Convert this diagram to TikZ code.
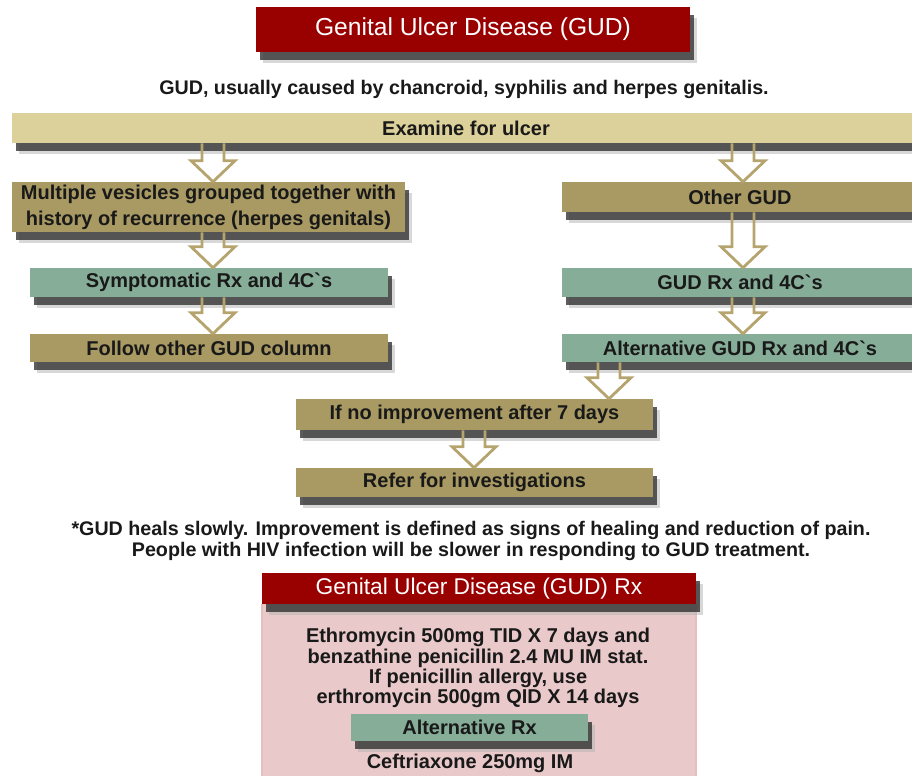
\documentclass[tikz,border=0pt]{standalone}
\usepackage{fontspec}
\setmainfont{Liberation Sans}
\usetikzlibrary{calc, shadows}

\definecolor{gudred}{RGB}{153,0,0}
\definecolor{gudlight}{RGB}{221,209,155}
\definecolor{gudtan}{RGB}{168,154,98}
\definecolor{gudteal}{RGB}{134,173,152}
\definecolor{gudpink}{RGB}{233,201,201}
\definecolor{gudarrowcol}{RGB}{181,164,110}

% hollow block arrow: x position, from node, to node
\newcommand{\gudarrow}[3]{%
    \path (#2.south -| #1,0) coordinate (ga-s) (#3.north -| #1,0) coordinate (ga-t);
    \draw[hollow] ($(ga-s)+(-11,0)$) -- ($(ga-t)+(-11,-21)$) -- ++(-11,0) -- (ga-t)
        -- ($(ga-t)+(22,-21)$) -- ++(-11,0) -- ($(ga-s)+(11,0)$);
}

\begin{document}
\begin{tikzpicture}[
        x=0.025cm, y=-0.025cm,
        every node/.style={inner sep=0pt, align=center},
        box/.style={rectangle, text=black!90, boxshadow,
            font=\bfseries\fontsize{14.2}{15}\selectfont},
        headbox/.style={box, fill=gudred, text=white,
            font=\fontsize{17.5}{18}\selectfont},
        lightbox/.style={box, fill=gudlight},
        tanbox/.style={box, fill=gudtan},
        tealbox/.style={box, fill=gudteal},
        hollow/.style={draw=gudarrowcol, line width=2pt, line join=miter}
    ]

    \tikzset{
    boxshadow/.style={
        drop shadow={shadow xshift=5pt, shadow yshift=-8pt, fill=black!30, opacity=.5},
        drop shadow={shadow xshift=3pt, shadow yshift=-6pt, fill=black!80, opacity=.8}},
    note/.style={font=\bfseries\fontsize{14}{15}\selectfont, text=black!90}
}

    \clip (0,0) rectangle (912,775);
    \useasboundingbox (0,0) rectangle (912,775);

    % top part
    \node[headbox, minimum width=10.85cm, minimum height=1.125cm] (title) at (473,29.5) {Genital Ulcer Disease (GUD)};
    \node[note] (cause) at (464,89) {GUD, usually caused by chancroid, syphilis and herpes genitalis.};
    \node[lightbox, minimum width=22.7cm, minimum height=0.75cm] (exam) at (466,128) {Examine for ulcer};

    % left column
    \node[tanbox, minimum width=9.825cm, minimum height=1.25cm, font=\bfseries\fontsize{14.2}{18.5}\selectfont] (herpes) at (208.5,207) {Multiple vesicles grouped together with\\history of recurrence (herpes genitals)};
    \node[tealbox, minimum width=8.95cm, minimum height=0.725cm] (symp) at (209,282.5) {Symptomatic Rx and 4C\textasciigrave s};
    \node[tanbox, minimum width=8.95cm, minimum height=0.7cm] (follow) at (209,348) {Follow other GUD column};

    % right column
    \node[tanbox, minimum width=8.9cm, minimum height=0.75cm] (other) at (740,197) {Other GUD};
    \node[tealbox, minimum width=8.9cm, minimum height=0.725cm] (gudrx) at (740,282.5) {GUD Rx and 4C\textasciigrave s};
    \node[tealbox, minimum width=8.9cm, minimum height=0.7cm] (altrx) at (740,348) {Alternative GUD Rx and 4C\textasciigrave s};

    % middle
    \node[tanbox, minimum width=8.925cm, minimum height=0.775cm] (noimp) at (474.5,414.5) {If no improvement after 7 days};
    \node[tanbox, minimum width=8.925cm, minimum height=0.725cm] (refer) at (474.5,482.5) {Refer for investigations};

    \node[note, font=\bfseries\fontsize{14}{15}\selectfont] (heal) at (471,541) {*GUD heals slowly. Improvement is defined as signs of healing and reduction of pain.\\People with HIV infection will be slower in responding to GUD treatment.};

    % treatment panel
    \node[rectangle, fill=gudpink, draw=gudred!25, line width=1pt, minimum width=10.85cm, minimum height=4.8cm, anchor=north] (rxbody) at (479,604) {};
    \node[headbox, minimum width=10.85cm, minimum height=0.775cm, font=\fontsize{16.2}{17}\selectfont] (rxtitle) at (479,588.5) {Genital Ulcer Disease (GUD) Rx};
    \node[font=\bfseries\fontsize{14.2}{14.3}\selectfont, text=black!90] (rxtext) at (478,668) {Ethromycin 500mg TID X 7 days and\\benzathine penicillin 2.4 MU IM stat.\\If penicillin allergy, use\\erthromycin 500gm QID X 14 days};
    \node[tealbox, minimum width=5.925cm, minimum height=0.675cm] (altbox) at (469.5,727.5) {Alternative Rx};
    \node[font=\bfseries\fontsize{14.2}{15}\selectfont, text=black!90] (ceft) at (470,763) {Ceftriaxone 250mg IM};

    % arrows
    \gudarrow{213}{exam}{herpes}
    \gudarrow{743}{exam}{other}
    \gudarrow{213}{herpes}{symp}
    \gudarrow{743}{other}{gudrx}
    \gudarrow{213}{symp}{follow}
    \gudarrow{743}{gudrx}{altrx}
    \gudarrow{609}{altrx}{noimp}
    \gudarrow{474}{noimp}{refer}
    \end{tikzpicture}
\end{document}
